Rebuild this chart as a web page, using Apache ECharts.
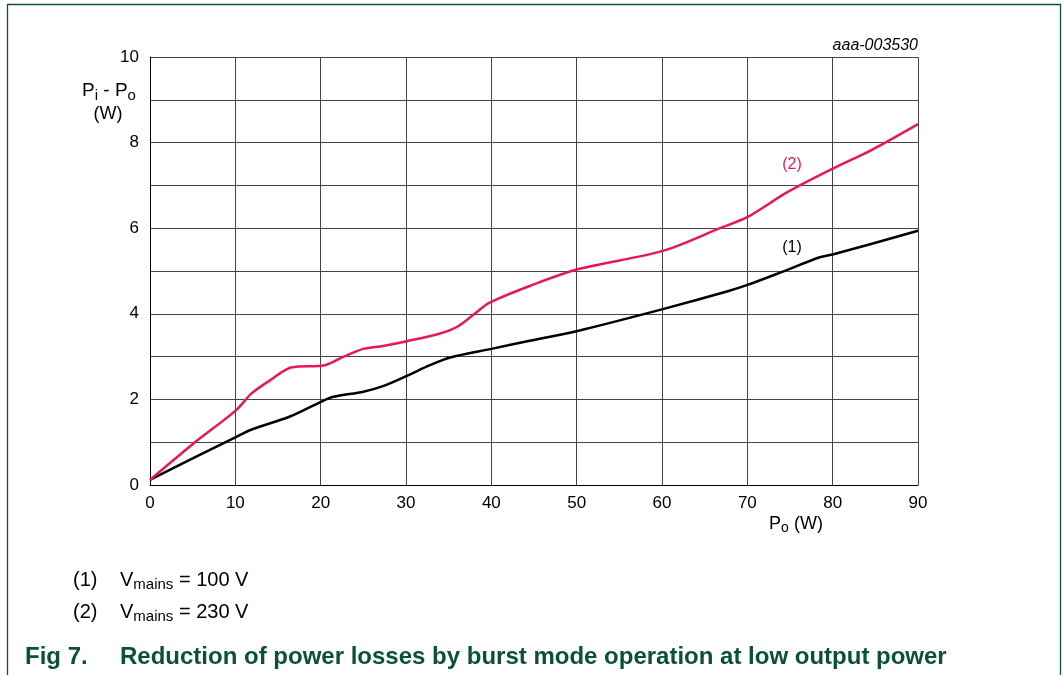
<!DOCTYPE html>
<html>
<head>
<meta charset="utf-8">
<script src="https://cdn.jsdelivr.net/npm/echarts@6/dist/echarts.min.js"></script>
<style>html,body{margin:0;padding:0;background:#fff;}#c{width:1063px;height:675px;}</style>
</head>
<body>
<div id="c"></div>
<script>
const xTicks = [0, 10, 20, 30, 40, 50, 60, 70, 80, 90];
const yTicks = [0, 2, 4, 6, 8, 10];
const po100 = [0, 5, 10, 11.7, 16.4, 20.1, 21.5, 25, 27.3, 30.1, 32.8, 35.2, 40, 44.5, 50.1, 60.1, 67.6, 70.1, 74.6, 78.5, 80.1, 90];
const loss100 = [0.12, 0.62, 1.11, 1.28, 1.6, 1.95, 2.06, 2.18, 2.31, 2.55, 2.8, 2.98, 3.18, 3.37, 3.6, 4.11, 4.52, 4.68, 5.02, 5.32, 5.39, 5.94];
const po230 = [0, 5.1, 10.1, 11.9, 14.1, 16.6, 20.5, 22.7, 25, 27.3, 30.1, 34, 36.1, 38.1, 39.8, 44.5, 50.1, 60.1, 66.8, 70.1, 74.6, 80.1, 84.6, 90];
const loss230 = [0.12, 0.97, 1.75, 2.14, 2.45, 2.75, 2.8, 3.0, 3.18, 3.25, 3.36, 3.54, 3.71, 4.01, 4.26, 4.65, 5.04, 5.47, 6.0, 6.27, 6.83, 7.4, 7.83, 8.43];

const chart = echarts.init(document.getElementById('c'));
const font = 'Liberation Sans, Arial, sans-serif';
const green = '#0b5138';
chart.setOption({
  animation: false,
  backgroundColor: '#fff',
  grid: { left: 150, top: 57, width: 768, height: 428 },
  xAxis: {
    type: 'value', min: 0, max: 90, interval: 10,
    axisLine: { lineStyle: { color: '#000', width: 1 } },
    axisTick: { show: false },
    axisLabel: { color: '#000', fontSize: 17, fontFamily: font, margin: 10,
      formatter: v => xTicks.includes(v) ? String(v) : '' },
    splitLine: { show: true, lineStyle: { color: '#444', width: 1 } }
  },
  yAxis: {
    type: 'value', min: 0, max: 10, interval: 1,
    axisLine: { show: true, lineStyle: { color: '#000', width: 1 } },
    axisTick: { show: false },
    axisLabel: { color: '#000', fontSize: 17, fontFamily: font, margin: 11,
      formatter: v => yTicks.includes(v) ? String(v) : '' },
    splitLine: { show: true, lineStyle: { color: '#444', width: 1 } }
  },
  series: [
    { type: 'line', data: po100.map((x, i) => [x, loss100[i]]), showSymbol: false, smooth: 0.3,
      lineStyle: { color: '#000', width: 2.5 } },
    { type: 'line', data: po230.map((x, i) => [x, loss230[i]]), showSymbol: false, smooth: 0.3,
      lineStyle: { color: '#e8175d', width: 2.5 } }
  ],
  graphic: [
    { type: 'rect', shape: { x: 7.5, y: 4.5, width: 1053, height: 700 }, silent: true,
      style: { fill: 'none', stroke: green, lineWidth: 1.3 } },
    { type: 'text', x: 918, y: 46, style: { text: 'aaa-003530', font: 'italic 16px ' + font, fill: '#000', align: 'right', verticalAlign: 'middle' } },
    { type: 'text', x: 109, y: 91, style: { text: '{n|P}{s|i}{n| - P}{s|o}', align: 'center', verticalAlign: 'middle',
      rich: { n: { fontSize: 19, fontFamily: font, fill: '#000' }, s: { fontSize: 15, fontFamily: font, fill: '#000', padding: [9, 0, 0, 0] } } } },
    { type: 'text', x: 108, y: 114, style: { text: '(W)', font: '18px ' + font, fill: '#000', align: 'center', verticalAlign: 'middle' } },
    { type: 'text', x: 796, y: 524, style: { text: '{n|P}{s|o}{n| (W)}', align: 'center', verticalAlign: 'middle',
      rich: { n: { fontSize: 18, fontFamily: font, fill: '#000' }, s: { fontSize: 14, fontFamily: font, fill: '#000', padding: [9, 0, 0, 0] } } } },
    { type: 'text', x: 792, y: 165, style: { text: '(2)', font: '16px ' + font, fill: '#e8175d', align: 'center', verticalAlign: 'middle' } },
    { type: 'text', x: 792, y: 248, style: { text: '(1)', font: '16px ' + font, fill: '#000', align: 'center', verticalAlign: 'middle' } },
    { type: 'text', x: 73, y: 580, style: { text: '(1)', font: '20px ' + font, fill: '#000', verticalAlign: 'middle' } },
    { type: 'text', x: 120, y: 580, style: { text: '{n|V}{s|mains}{n| = 100 V}', verticalAlign: 'middle',
      rich: { n: { fontSize: 20, fontFamily: font, fill: '#000' }, s: { fontSize: 15, fontFamily: font, fill: '#000', padding: [10, 0, 0, 0] } } } },
    { type: 'text', x: 73, y: 612, style: { text: '(2)', font: '20px ' + font, fill: '#000', verticalAlign: 'middle' } },
    { type: 'text', x: 120, y: 612, style: { text: '{n|V}{s|mains}{n| = 230 V}', verticalAlign: 'middle',
      rich: { n: { fontSize: 20, fontFamily: font, fill: '#000' }, s: { fontSize: 15, fontFamily: font, fill: '#000', padding: [10, 0, 0, 0] } } } },
    { type: 'text', x: 25, y: 657, style: { text: 'Fig 7.', font: 'bold 24px ' + font, fill: green, verticalAlign: 'middle' } },
    { type: 'text', x: 120, y: 657, style: { text: 'Reduction of power losses by burst mode operation at low output power', font: 'bold 24px ' + font, fill: green, verticalAlign: 'middle' } }
  ]
});
</script>
</body>
</html>
